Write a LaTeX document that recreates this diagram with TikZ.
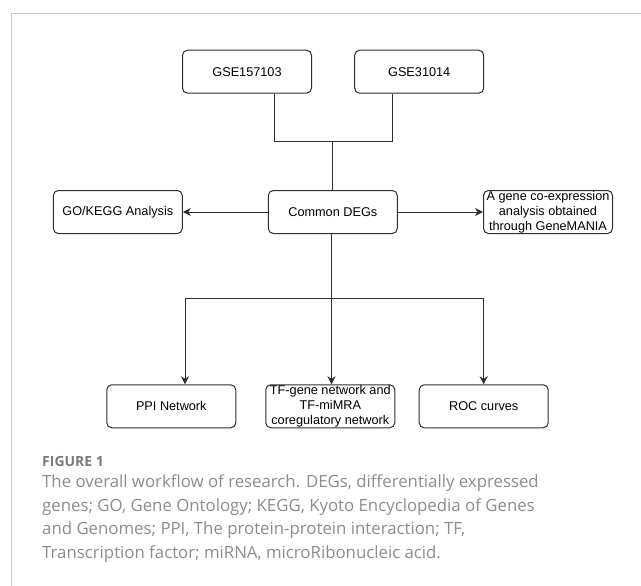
\documentclass[tikz,border=0pt]{standalone}
\usepackage{fontspec}
\setmainfont{Liberation Sans}
\newfontfamily\captionfont{Open Sans}
\usetikzlibrary{arrows.meta, positioning}
\definecolor{cline}{HTML}{2E2E2E}
\definecolor{cframe}{HTML}{C8C8C8}
\definecolor{ccaption}{HTML}{8C8C8C}
\definecolor{clabel}{HTML}{7A7A7A}
\tikzset{
  every picture/.style={font=\fontsize{12.7}{15}\selectfont, line width=1pt},
  box/.style={draw=cline, rounded corners=5pt, align=center, inner sep=0pt, minimum width=129pt, minimum height=43pt},
  link/.style={draw=cline},
  arrow/.style={-{Stealth[length=8pt, width=8pt, inset=2.5pt]}, draw=cline},
  figlabel/.style={font=\captionfont\bfseries\fontsize{14}{17}\selectfont, text=clabel, inner sep=0pt},
  caption/.style={font=\captionfont\fontsize{16.8}{23.5}\selectfont, text=ccaption, align=left, inner sep=0pt},
}

\begin{document}
\begin{tikzpicture}[x=1pt, y=-1pt]
  \useasboundingbox (0,0) rectangle (641,586);
  \draw[cframe, line width=1.3pt] (11.7,586) -- (11.7,13.3) -- (641,13.3);

  \node[box] (gseA) at (247,71.7) {GSE157103};
  \node[box] (gseB) at (419.2,71.7) {GSE31014};
  \node[box] (degs) at (332.8,212) {Common DEGs};
  \node[box] (gokegg) at (117.8,212) {GO/KEGG Analysis};
  \node[box] (genemania) at (548,212) {A gene co-expression\\analysis obtained\\through GeneMANIA};
  \node[box] (ppi) at (171.3,406.3) {PPI Network};
  \node[box] (tfnet) at (330.3,406.3) {TF-gene network and\\TF-miMRA\\coregulatory network};
  \node[box] (roc) at (483.7,406.3) {ROC curves};

  \coordinate (merge) at (332.7,141.7);
  \coordinate (split) at (331.5,298.3);
  \draw[link] ([xshift=27pt]gseA.south) |- (merge) -| ([xshift=-27pt]gseB.south);
  \draw[link] (merge) -- (merge |- degs.north);
  \draw[arrow] (degs) -- (gokegg);
  \draw[arrow] (degs) -- (genemania);
  \draw[link] (split |- degs.south) -- (split);
  \draw[arrow] (split) -| ([xshift=13.7pt]ppi.north);
  \draw[arrow] (split) -- (split |- tfnet.north);
  \draw[arrow] (split) -| (roc.north);

  \node[figlabel, anchor=base west] (fig) at (41.7,466.7) {FIGURE 1};
  \node[caption, anchor=north west] (caption) at (41.7,474.5)
    {The overall workflow of research. DEGs, differentially expressed\\
     genes; GO, Gene Ontology; KEGG, Kyoto Encyclopedia of Genes\\
     and Genomes; PPI, The protein-protein interaction; TF,\\
     Transcription factor; miRNA, microRibonucleic acid.};
\end{tikzpicture}
\end{document}
